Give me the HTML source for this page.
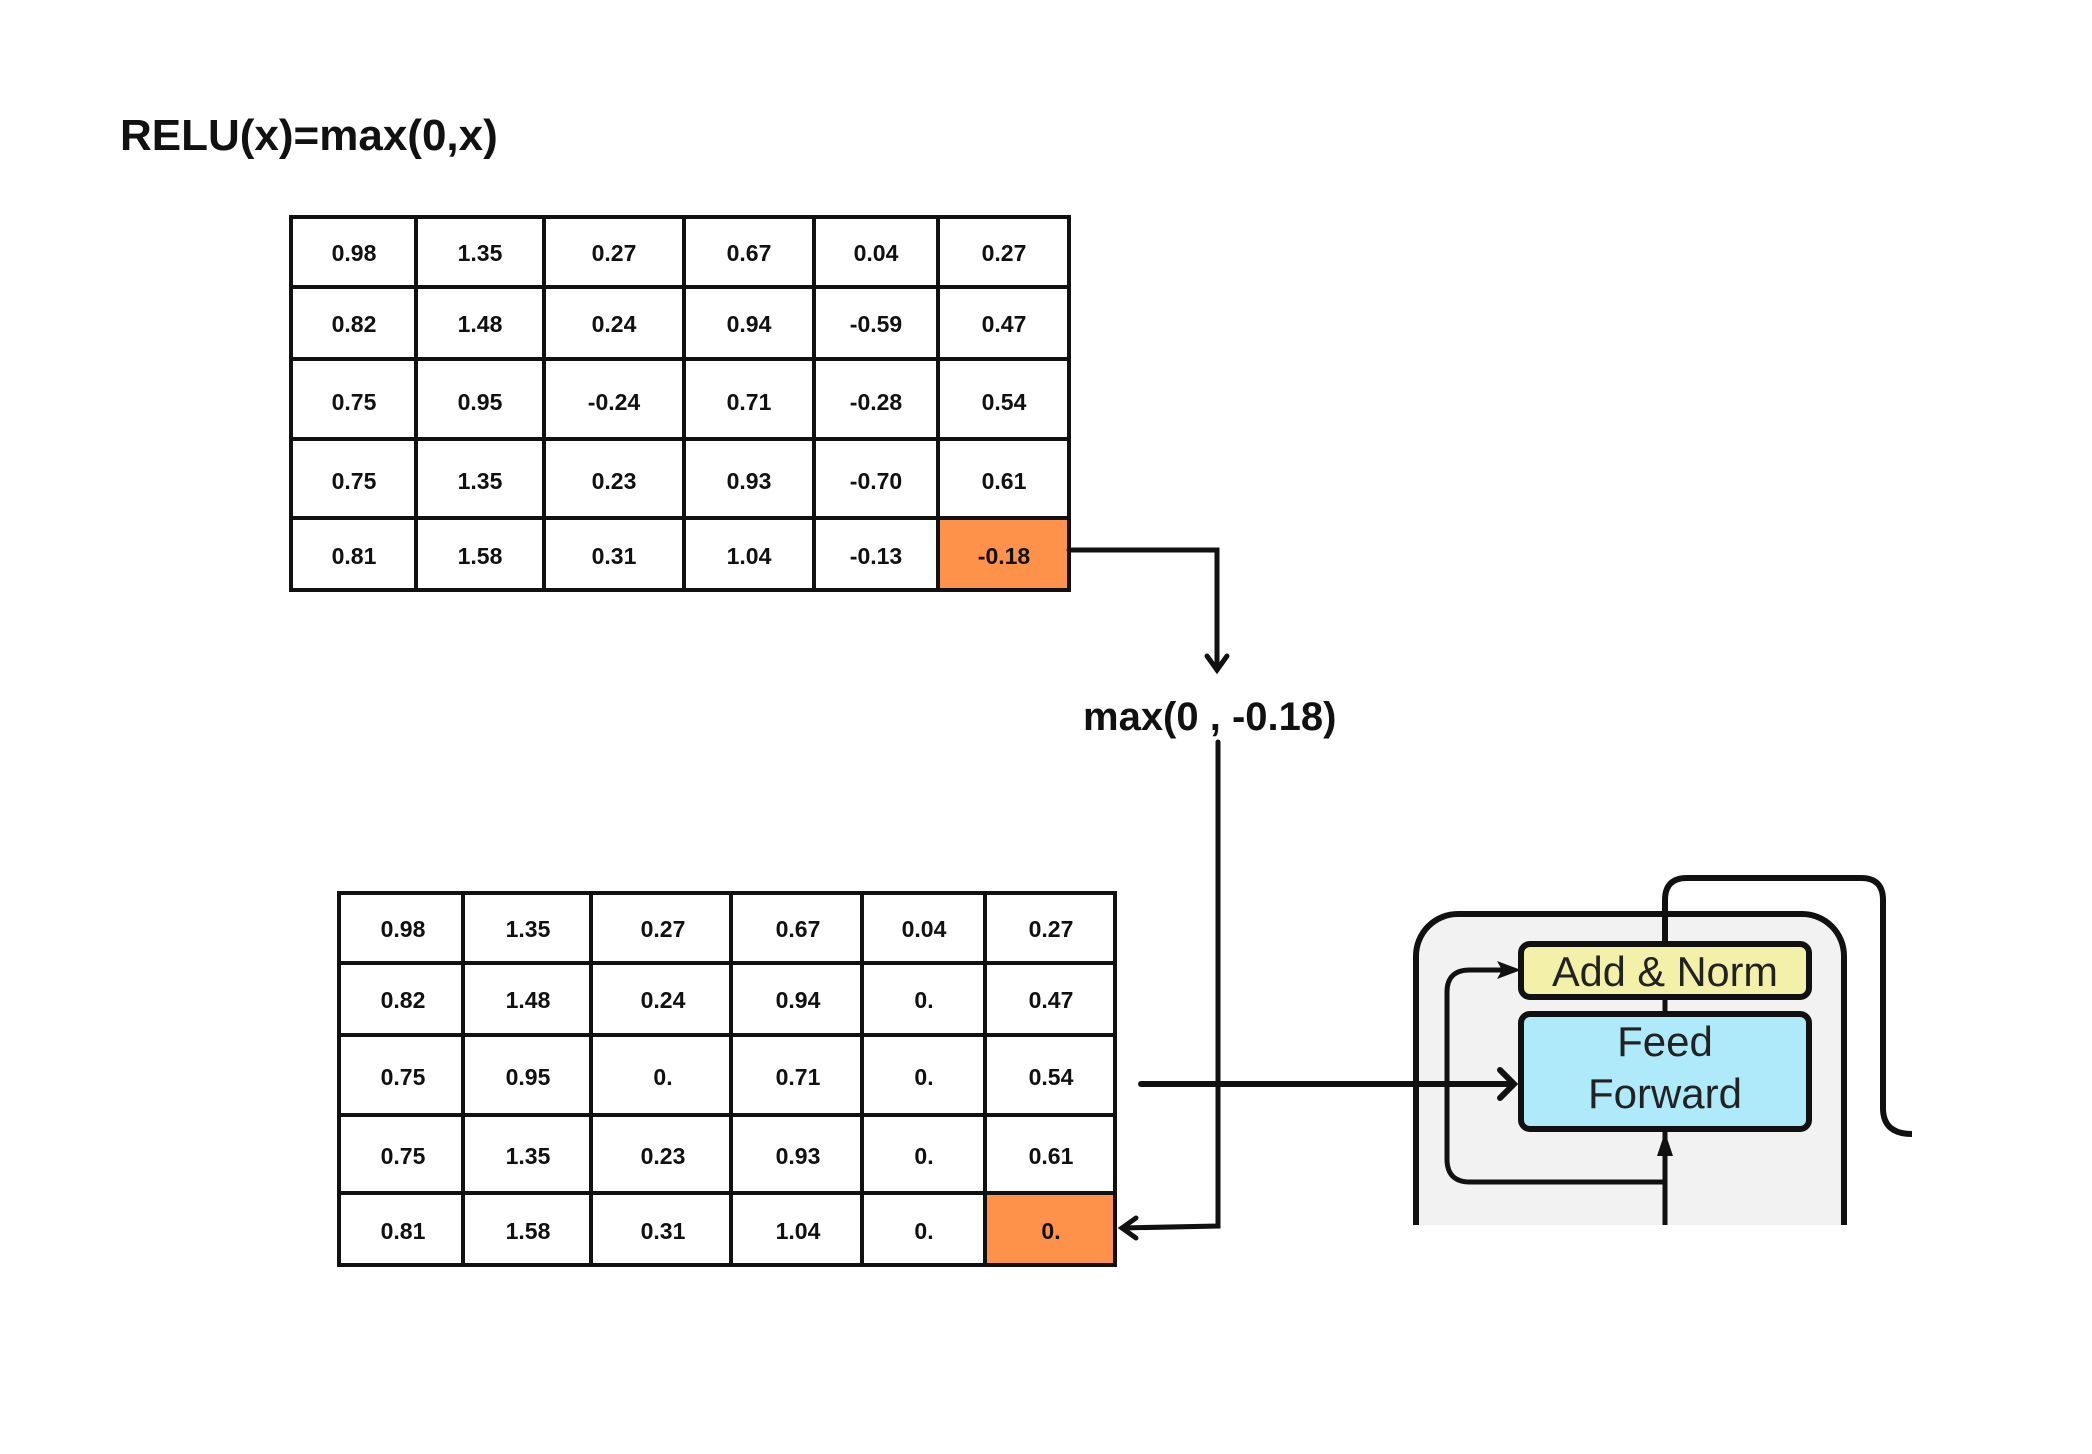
<!DOCTYPE html>
<html><head><meta charset="utf-8"><style>
html,body{margin:0;padding:0;background:#fff;}
svg{display:block;}
.c{font-family:"Liberation Sans",sans-serif;font-weight:bold;font-size:23px;fill:#111;text-anchor:middle;}
</style></head><body>
<svg width="2092" height="1454" viewBox="0 0 2092 1454" xmlns="http://www.w3.org/2000/svg">
<defs><clipPath id="cp"><rect x="1300" y="850" width="700" height="375"/></clipPath></defs>
<text x="120" y="150" font-family="Liberation Sans, sans-serif" font-weight="bold" font-size="44" fill="#111">RELU(x)=max(0,x)</text>

<!-- top table -->
<rect x="938" y="518" width="131" height="72" fill="#fe924a"/>
<g stroke="#111" stroke-width="4" fill="none">
<rect x="291" y="217" width="778" height="373"/>
<line x1="416" y1="217" x2="416" y2="590"/><line x1="544" y1="217" x2="544" y2="590"/><line x1="684" y1="217" x2="684" y2="590"/><line x1="814" y1="217" x2="814" y2="590"/><line x1="938" y1="217" x2="938" y2="590"/>
<line x1="291" y1="287" x2="1069" y2="287"/><line x1="291" y1="359" x2="1069" y2="359"/><line x1="291" y1="439" x2="1069" y2="439"/><line x1="291" y1="518" x2="1069" y2="518"/>
</g>
<g class="c">
<text x="354" y="261">0.98</text><text x="480" y="261">1.35</text><text x="614" y="261">0.27</text><text x="749" y="261">0.67</text><text x="876" y="261">0.04</text><text x="1004" y="261">0.27</text>
<text x="354" y="332">0.82</text><text x="480" y="332">1.48</text><text x="614" y="332">0.24</text><text x="749" y="332">0.94</text><text x="876" y="332">-0.59</text><text x="1004" y="332">0.47</text>
<text x="354" y="410">0.75</text><text x="480" y="410">0.95</text><text x="614" y="410">-0.24</text><text x="749" y="410">0.71</text><text x="876" y="410">-0.28</text><text x="1004" y="410">0.54</text>
<text x="354" y="489">0.75</text><text x="480" y="489">1.35</text><text x="614" y="489">0.23</text><text x="749" y="489">0.93</text><text x="876" y="489">-0.70</text><text x="1004" y="489">0.61</text>
<text x="354" y="564">0.81</text><text x="480" y="564">1.58</text><text x="614" y="564">0.31</text><text x="749" y="564">1.04</text><text x="876" y="564">-0.13</text><text x="1004" y="564">-0.18</text>
</g>

<!-- bottom table -->
<rect x="985" y="1193" width="130" height="72" fill="#fe924a"/>
<g stroke="#111" stroke-width="4" fill="none">
<rect x="339" y="893" width="776" height="372"/>
<line x1="463" y1="893" x2="463" y2="1265"/><line x1="591" y1="893" x2="591" y2="1265"/><line x1="731" y1="893" x2="731" y2="1265"/><line x1="862" y1="893" x2="862" y2="1265"/><line x1="985" y1="893" x2="985" y2="1265"/>
<line x1="339" y1="963" x2="1115" y2="963"/><line x1="339" y1="1035" x2="1115" y2="1035"/><line x1="339" y1="1115" x2="1115" y2="1115"/><line x1="339" y1="1193" x2="1115" y2="1193"/>
</g>
<g class="c">
<text x="403" y="937">0.98</text><text x="528" y="937">1.35</text><text x="663" y="937">0.27</text><text x="798" y="937">0.67</text><text x="924" y="937">0.04</text><text x="1051" y="937">0.27</text>
<text x="403" y="1008">0.82</text><text x="528" y="1008">1.48</text><text x="663" y="1008">0.24</text><text x="798" y="1008">0.94</text><text x="924" y="1008">0.</text><text x="1051" y="1008">0.47</text>
<text x="403" y="1085">0.75</text><text x="528" y="1085">0.95</text><text x="663" y="1085">0.</text><text x="798" y="1085">0.71</text><text x="924" y="1085">0.</text><text x="1051" y="1085">0.54</text>
<text x="403" y="1164">0.75</text><text x="528" y="1164">1.35</text><text x="663" y="1164">0.23</text><text x="798" y="1164">0.93</text><text x="924" y="1164">0.</text><text x="1051" y="1164">0.61</text>
<text x="403" y="1239">0.81</text><text x="528" y="1239">1.58</text><text x="663" y="1239">0.31</text><text x="798" y="1239">1.04</text><text x="924" y="1239">0.</text><text x="1051" y="1239">0.</text>
</g>

<!-- transformer fragment -->
<g clip-path="url(#cp)">
<rect x="1416" y="914" width="428" height="420" rx="42" fill="#f2f2f2" stroke="#111" stroke-width="6"/>
<path d="M1665 943 V900 Q1665 878 1687 878 H1861 Q1883 878 1883 900 V1108 Q1883 1134 1912 1134" fill="none" stroke="#111" stroke-width="6"/>
<path d="M1665 1225 V1132" fill="none" stroke="#111" stroke-width="5"/>
<polygon points="1665,1132 1657,1156 1673,1156" fill="#111"/>
<path d="M1665 1182 H1470 Q1447 1182 1447 1159 V992 Q1447 970 1470 970 H1515" fill="none" stroke="#111" stroke-width="5"/>
<polygon points="1521,970 1497,961 1502,970 1497,979" fill="#111"/>
<line x1="1665" y1="997" x2="1665" y2="1013" stroke="#111" stroke-width="5"/>
<rect x="1521" y="944" width="288" height="53" rx="9" fill="#f3f1a9" stroke="#111" stroke-width="6"/>
<rect x="1521" y="1014" width="288" height="115" rx="9" fill="#aeeafa" stroke="#111" stroke-width="6"/>
<g font-family="Liberation Sans, sans-serif" font-size="42" fill="#222" text-anchor="middle">
<text x="1665" y="986" textLength="226" lengthAdjust="spacingAndGlyphs">Add &amp; Norm</text>
<text x="1665" y="1056">Feed</text>
<text x="1665" y="1108">Forward</text>
</g>
</g>

<!-- connectors -->
<g stroke="#111" stroke-width="5" fill="none" stroke-linecap="round" stroke-linejoin="miter">
<polyline points="1069,550 1217,550 1217,670"/>
<polyline points="1207,656 1217,670 1227,656"/>
<polyline points="1218,742 1218,1226 1122,1228"/>
<polyline points="1136,1218 1122,1228 1136,1238"/>
<line x1="1141" y1="1084" x2="1512" y2="1084" stroke-width="6"/>
<polyline points="1500,1070 1514,1084 1500,1098" stroke-width="6"/>
</g>
<text x="1083" y="730" font-family="Liberation Sans, sans-serif" font-weight="bold" font-size="40" fill="#111">max(0 , -0.18)</text>
</svg>
</body></html>
